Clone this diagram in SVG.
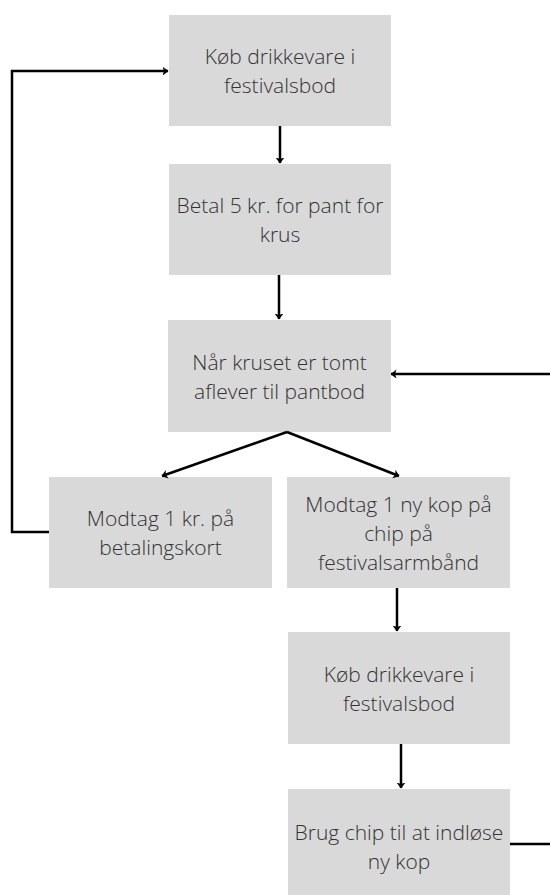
<svg xmlns="http://www.w3.org/2000/svg" width="550" height="895" viewBox="0 0 550 895">
<style>
.box{fill:#d9d9d9;}
.t{font-family:"Open Sans","Noto Sans",sans-serif;font-weight:300;font-size:21px;fill:#333333;text-anchor:middle;}
.c{fill:none;stroke:#000;stroke-width:2.5;}
</style>
<defs>
<marker id="ah" viewBox="0 0 6 10" refX="5.5" refY="5" markerWidth="2.4" markerHeight="4" orient="auto" markerUnits="strokeWidth">
<path d="M0,0.5 L6,5 L0,9.5 L1.5,5 z" fill="#000"/>
</marker>
</defs>
<rect width="550" height="895" fill="#ffffff"/>
<g id="n1"><rect class="box" x="169" y="15" width="222" height="111"/><text class="t" x="280" y="64">Køb drikkevare i</text><text class="t" x="280" y="93">festivalsbod</text></g>
<g id="n2"><rect class="box" x="169" y="164" width="222" height="111"/><text class="t" x="280" y="213">Betal 5 kr. for pant for</text><text class="t" x="280" y="242">krus</text></g>
<g id="n3"><rect class="box" x="168" y="320" width="223" height="112"/><text class="t" x="279.5" y="369.5">Når kruset er tomt</text><text class="t" x="279.5" y="398.5">aflever til pantbod</text></g>
<g id="n4"><rect class="box" x="49" y="477" width="223" height="111"/><text class="t" x="160.5" y="526">Modtag 1 kr. på</text><text class="t" x="160.5" y="555">betalingskort</text></g>
<g id="n5"><rect class="box" x="287" y="477" width="223" height="111"/><text class="t" x="398.5" y="511.5">Modtag 1 ny kop på</text><text class="t" x="398.5" y="540.5">chip på</text><text class="t" x="398.5" y="569.5">festivalsarmbånd</text></g>
<g id="n6"><rect class="box" x="288" y="632" width="222" height="112"/><text class="t" x="399" y="681.5">Køb drikkevare i</text><text class="t" x="399" y="710.5">festivalsbod</text></g>
<g id="n7"><rect class="box" x="288" y="789" width="222" height="112"/><text class="t" x="399" y="840">Brug chip til at indløse</text><text class="t" x="399" y="869">ny kop</text></g>
<g id="connectors">
<path class="c" d="M280,126 V163" marker-end="url(#ah)"/>
<path class="c" d="M279,275 V319" marker-end="url(#ah)"/>
<path class="c" d="M287,432 L162,476" marker-end="url(#ah)"/>
<path class="c" d="M287,432 L399,476" marker-end="url(#ah)"/>
<path class="c" d="M49,532 H12 V71 H168" marker-end="url(#ah)"/>
<path class="c" d="M550,374 H391" marker-end="url(#ah)"/>
<path class="c" d="M397,588 V631" marker-end="url(#ah)"/>
<path class="c" d="M401,744 V788" marker-end="url(#ah)"/>
<path class="c" d="M510,844 H550"/>
</g>
</svg>
